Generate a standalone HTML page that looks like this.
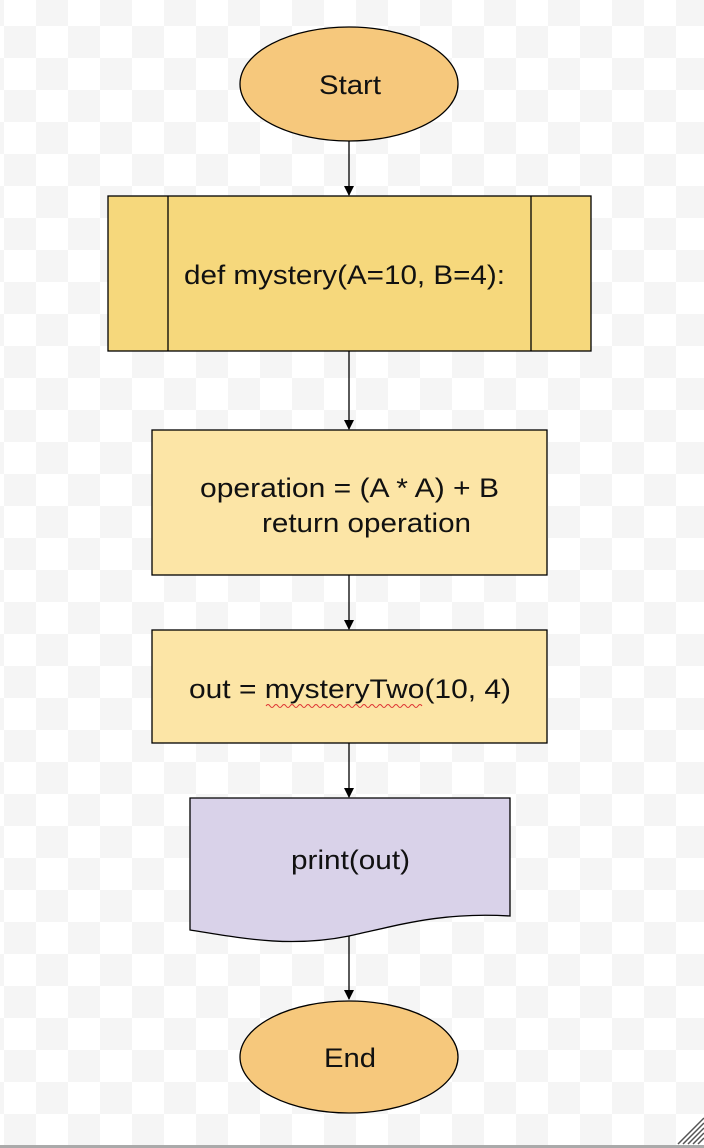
<!DOCTYPE html>
<html><head><style>
html,body{margin:0;padding:0}
body{width:704px;height:1148px;overflow:hidden;position:relative;
background-color:#fff;
background-image:linear-gradient(45deg,#f5f5f5 25%,transparent 25%,transparent 75%,#f5f5f5 75%),linear-gradient(45deg,#f5f5f5 25%,transparent 25%,transparent 75%,#f5f5f5 75%);
background-size:64px 64px;background-position:4px -6px,36px 26px;}
svg{position:absolute;left:0;top:0}
text{font-family:"Liberation Sans",Arial,sans-serif;font-size:27px;fill:#111}
</style></head><body>
<svg width="704" height="1148" viewBox="0 0 704 1148">
<defs><marker id="a" markerWidth="10" markerHeight="10" refX="9" refY="5" orient="auto" markerUnits="userSpaceOnUse"><path d="M0,0 L10,5 L0,10 z" fill="#000"/></marker></defs>
<g stroke="#000" stroke-width="1.3">
<line x1="349" y1="141" x2="349" y2="195" marker-end="url(#a)"/>
<line x1="349" y1="351" x2="349" y2="429" marker-end="url(#a)"/>
<line x1="349" y1="575" x2="349" y2="629" marker-end="url(#a)"/>
<line x1="349" y1="743" x2="349" y2="797" marker-end="url(#a)"/>
<line x1="349" y1="936" x2="349" y2="999" marker-end="url(#a)"/>
<ellipse cx="349" cy="84" rx="109" ry="57" fill="#f6c87c"/>
<rect x="108" y="196" width="483" height="155" fill="#f6d87c"/>
<line x1="168" y1="196" x2="168" y2="351"/>
<line x1="531" y1="196" x2="531" y2="351"/>
<rect x="152" y="430" width="395" height="145" fill="#fce5a6"/>
<rect x="152" y="630" width="395" height="113" fill="#fce5a6"/>
<path d="M190,798 L510,798 L510,916 C440,912 400,925 349,936 C290,948 240,938 190,930 Z" fill="#d9d2e9"/>
<ellipse cx="349" cy="1057" rx="109" ry="56" fill="#f6c87c"/>
</g>
<text x="319" y="94" textLength="62" lengthAdjust="spacingAndGlyphs">Start</text>
<text x="184" y="284" textLength="321" lengthAdjust="spacingAndGlyphs">def mystery(A=10, B=4):</text>
<text x="200" y="497" textLength="299" lengthAdjust="spacingAndGlyphs">operation = (A * A) + B</text>
<text x="262" y="532" textLength="209" lengthAdjust="spacingAndGlyphs">return operation</text>
<text x="189" y="698" textLength="322" lengthAdjust="spacingAndGlyphs">out = mysteryTwo(10, 4)</text>
<path d="M266,706 q2,-3 4,0 t4,0 t4,0 t4,0 t4,0 t4,0 t4,0 t4,0 t4,0 t4,0 t4,0 t4,0 t4,0 t4,0 t4,0 t4,0 t4,0 t4,0 t4,0 t4,0 t4,0 t4,0 t4,0 t4,0 t4,0 t4,0 t4,0 t4,0 t4,0 t4,0 t4,0 t4,0 t4,0 t4,0 t4,0 t4,0 t4,0 t4,0 t4,0" stroke="#d33" stroke-width="1" fill="none"/>
<text x="291" y="869" textLength="119" lengthAdjust="spacingAndGlyphs">print(out)</text>
<text x="324" y="1067" textLength="52" lengthAdjust="spacingAndGlyphs">End</text>
<rect x="0" y="1145" width="704" height="3" fill="#aaa"/>
<g stroke="#555" stroke-width="1.5">
<line x1="678" y1="1144" x2="704" y2="1118"/><line x1="683" y1="1144" x2="704" y2="1123"/><line x1="688" y1="1144" x2="704" y2="1128"/><line x1="693" y1="1144" x2="704" y2="1133"/><line x1="698" y1="1144" x2="704" y2="1138"/>
</g>
</svg>
</body></html>
